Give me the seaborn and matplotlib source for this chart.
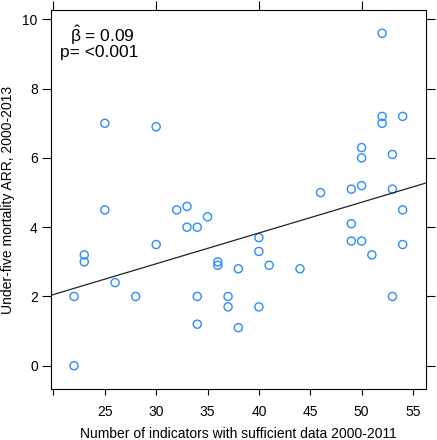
import matplotlib
matplotlib.use("Agg")
import matplotlib.pyplot as plt
import seaborn as sns
import pandas as pd

# number of indicators with sufficient data, 2000-2011
n_indicators = [25, 30, 52, 52, 52, 54, 50, 50, 53, 46, 49, 50, 53,
                25, 32, 33, 35, 33, 34, 30, 23, 23, 36, 36, 38, 26,
                22, 28, 34, 37, 37, 40, 34, 38, 22, 40, 40,
                54, 49, 49, 50, 54, 51, 41, 44, 53]
# under-five mortality ARR, 2000-2013
arr = [7.0, 6.9, 9.6, 7.2, 7.0, 7.2, 6.3, 6.0, 6.1, 5.0, 5.1, 5.2, 5.1,
       4.5, 4.5, 4.6, 4.3, 4.0, 4.0, 3.5, 3.2, 3.0, 3.0, 2.9, 2.8, 2.4,
       2.0, 2.0, 2.0, 2.0, 1.7, 1.7, 1.2, 1.1, 0.0, 3.7, 3.3,
       4.5, 4.1, 3.6, 3.6, 3.5, 3.2, 2.9, 2.8, 2.0]

# fitted regression line
intercept = 0.28
slope = 0.0888

x_ticks = [20, 25, 30, 35, 40, 45, 50, 55]
x_tick_labels = ["", "25", "30", "35", "40", "45", "50", "55"]
top_ticks = [20, 30, 40, 50]
y_ticks = [0, 2, 4, 6, 8, 10]

sns.set_style("ticks")
plt.rcParams["font.family"] = ["Liberation Sans", "DejaVu Sans"]
plt.rcParams["mathtext.fontset"] = "custom"
plt.rcParams["mathtext.rm"] = "Liberation Sans"
plt.rcParams["mathtext.it"] = "Liberation Sans"
for k in ["text.color", "axes.labelcolor", "xtick.color", "ytick.color"]:
    plt.rcParams[k] = "black"

df = pd.DataFrame({"n": n_indicators, "arr": arr})

fig = plt.figure(figsize=(4.37, 4.40), dpi=100)
ax = fig.add_axes([0.1167, 0.1159, 0.8574, 0.8614])

sns.scatterplot(data=df, x="n", y="arr", ax=ax, marker="o", s=34,
                facecolor="none", edgecolor="#2a8cff", linewidth=1.0)
ax.axline((0, intercept), slope=slope, color="#222222", lw=0.9)

# lattice-style padding of 7% on each side
xr = max(n_indicators) - min(n_indicators)
yr = max(arr) - min(arr)
xlim = (min(n_indicators) - 0.07 * xr, max(n_indicators) + 0.07 * xr)
ax.set_xlim(xlim)
ax.set_ylim(min(arr) - 0.07 * yr, max(arr) + 0.07 * yr)

for sp in ax.spines.values():
    sp.set_visible(True)
    sp.set_color("black")
    sp.set_linewidth(0.8)

ax.set_xticks(x_ticks)
ax.set_xticklabels(x_tick_labels)
ax.set_yticks(y_ticks)
ax.tick_params(axis="x", direction="out", length=4.5, width=0.8, pad=7,
               labelsize=10, color="black", bottom=True, top=False)
ax.tick_params(axis="y", direction="out", length=6.5, width=0.8, pad=3,
               labelsize=10, color="black", left=True, right=True,
               labelright=False)

# top ticks every 10, no labels (drawn as minor ticks on the top side only)
ax.xaxis.remove_overlapping_locs = False
ax.set_xticks(top_ticks, minor=True)
ax.tick_params(axis="x", which="minor", direction="out", length=6.5,
               width=0.8, color="black", top=True, bottom=False,
               labeltop=False, labelbottom=False)

ax.set_xlabel("Number of indicators with sufficient data 2000-2011", fontsize=10, labelpad=6)
ax.set_ylabel("Under-five mortality ARR, 2000-2013", fontsize=10, labelpad=5)

ax.text(0.051, 0.916, r"$\hat{\beta}$ = 0.09", transform=ax.transAxes,
        fontsize=12.5, va="baseline", ha="left")
ax.text(0.024, 0.876, "p= <0.001", transform=ax.transAxes,
        fontsize=12.5, va="baseline", ha="left")

fig.savefig("out.png", dpi=100)
